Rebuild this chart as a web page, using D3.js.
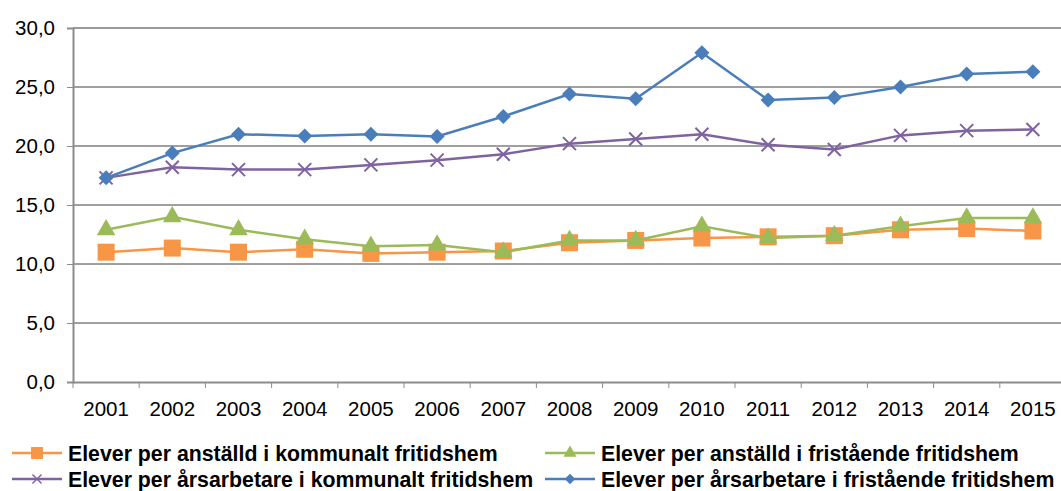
<!DOCTYPE html>
<html>
<head>
<meta charset="utf-8">
<script src="https://cdn.jsdelivr.net/npm/d3@7"></script>
<style>
  body { margin: 0; background: #fff; }
  svg text { font-family: "Liberation Sans", Arial, sans-serif; }
</style>
</head>
<body>
<svg id="chart" width="1061" height="491"></svg>
<script>
// Data
const years = ['2001','2002','2003','2004','2005','2006','2007','2008','2009','2010','2011','2012','2013','2014','2015'];
const anstKommunal = [11.0, 11.35, 11.0, 11.25, 10.9, 11.0, 11.1, 11.8, 12.0, 12.2, 12.3, 12.4, 12.9, 13.0, 12.8];
const anstFristaende = [12.9, 14.0, 12.9, 12.1, 11.5, 11.6, 11.0, 12.0, 12.0, 13.2, 12.2, 12.4, 13.2, 13.9, 13.9];
const arsKommunal = [17.3, 18.2, 18.0, 18.0, 18.4, 18.8, 19.3, 20.2, 20.6, 21.0, 20.1, 19.7, 20.9, 21.3, 21.4];
const arsFristaende = [17.3, 19.4, 21.0, 20.85, 21.0, 20.8, 22.5, 24.4, 24.0, 27.9, 23.9, 24.1, 25.0, 26.1, 26.3];
const yTicks = [0, 5, 10, 15, 20, 25, 30];

const series = [
  { name: 'Elever per anställd i kommunalt fritidshem', values: anstKommunal, color: '#F79646', marker: 'square' },
  { name: 'Elever per anställd i fristående fritidshem', values: anstFristaende, color: '#9BBB59', marker: 'triangle' },
  { name: 'Elever per årsarbetare i kommunalt fritidshem', values: arsKommunal, color: '#7F63A1', marker: 'x' },
  { name: 'Elever per årsarbetare i fristående fritidshem', values: arsFristaende, color: '#4A7EBB', marker: 'diamond' }
];

const svg = d3.select('#chart');
const margin = {left: 73, top: 28, bottom: 109};
const plotRight = 1066;
const height = 491 - margin.top - margin.bottom;

const x = d3.scaleBand().domain(years).range([margin.left, plotRight]);
const y = d3.scaleLinear().domain([0, 30]).range([margin.top + height, margin.top]);
const fmt = v => d3.format('.1f')(v).replace('.', ',');

// gridlines
svg.append('g')
  .selectAll('line')
  .data(yTicks.filter(d => d > 0))
  .enter()
  .append('line')
    .attr('x1', margin.left).attr('x2', plotRight)
    .attr('y1', d => y(d)).attr('y2', d => y(d))
    .attr('stroke', d => d === 30 ? '#9a9a9a' : '#404040')
    .attr('stroke-width', d => d === 30 ? 2 : 1);

// y axis
const yAxis = svg.append('g')
  .attr('transform', 'translate(' + margin.left + ',0)')
  .call(d3.axisLeft(y).tickValues(yTicks).tickFormat(fmt).tickSize(6).tickPadding(12));
yAxis.select('.domain').attr('stroke', '#8c8c8c').attr('stroke-width', 2);
yAxis.selectAll('.tick line').attr('stroke', '#8c8c8c');
yAxis.selectAll('text').attr('font-size', 20.5).attr('fill', '#000');

// x axis
const xAxis = svg.append('g')
  .attr('transform', 'translate(0,' + y(0) + ')')
  .call(d3.axisBottom(x).tickSize(0).tickPadding(19));
xAxis.select('.domain').attr('stroke', '#8c8c8c').attr('stroke-width', 2);
xAxis.selectAll('text').attr('font-size', 20.5).attr('fill', '#000');
xAxis.selectAll('.sep')
  .data(years)
  .enter()
  .append('line')
    .attr('x1', d => x(d)).attr('x2', d => x(d))
    .attr('y1', 0).attr('y2', 6)
    .attr('stroke', '#8c8c8c');

const cx = d => x(d) + x.bandwidth() / 2;

function drawMarker(g, type, color) {
  if (type === 'square') {
    g.append('rect').attr('x', -8.5).attr('y', -8.5).attr('width', 17).attr('height', 17).attr('fill', color);
  } else if (type === 'triangle') {
    g.append('path').attr('d', d3.symbol(d3.symbolTriangle, 150)()).attr('fill', color);
  } else if (type === 'diamond') {
    g.append('path').attr('d', 'M0,-7.5L7.5,0L0,7.5L-7.5,0Z').attr('fill', color);
  } else {
    g.append('path').attr('d', 'M-6.5,-6.5L6.5,6.5M-6.5,6.5L6.5,-6.5').attr('stroke', color).attr('stroke-width', 2).attr('fill', 'none');
  }
}

const line = d3.line().x((d, i) => cx(years[i])).y(d => y(d));

series.forEach(s => {
  svg.append('path')
    .datum(s.values)
    .attr('d', line)
    .attr('fill', 'none')
    .attr('stroke', s.color)
    .attr('stroke-width', 2.5);
  svg.append('g')
    .selectAll('g')
    .data(s.values)
    .enter()
    .append('g')
      .attr('transform', (d, i) => 'translate(' + cx(years[i]) + ',' + y(d) + ')')
      .each(function() { drawMarker(d3.select(this), s.marker, s.color); });
});

// legend
const legendPos = [[12, 453], [545, 453], [12, 479], [545, 479]];
series.forEach((s, i) => {
  const [lx, ly] = legendPos[i];
  const lg = svg.append('g').attr('transform', 'translate(' + lx + ',' + ly + ')');
  lg.append('line').attr('x1', 0).attr('x2', 50).attr('y1', 0).attr('y2', 0)
    .attr('stroke', s.color).attr('stroke-width', 2.5);
  const m = lg.append('g').attr('transform', 'translate(25,0) scale(0.7)');
  drawMarker(m, s.marker, s.color);
  lg.append('text')
    .attr('x', 56).attr('y', 7.5)
    .attr('font-size', 21.3).attr('font-weight', 'bold')
    .text(s.name);
});
</script>
</body>
</html>
